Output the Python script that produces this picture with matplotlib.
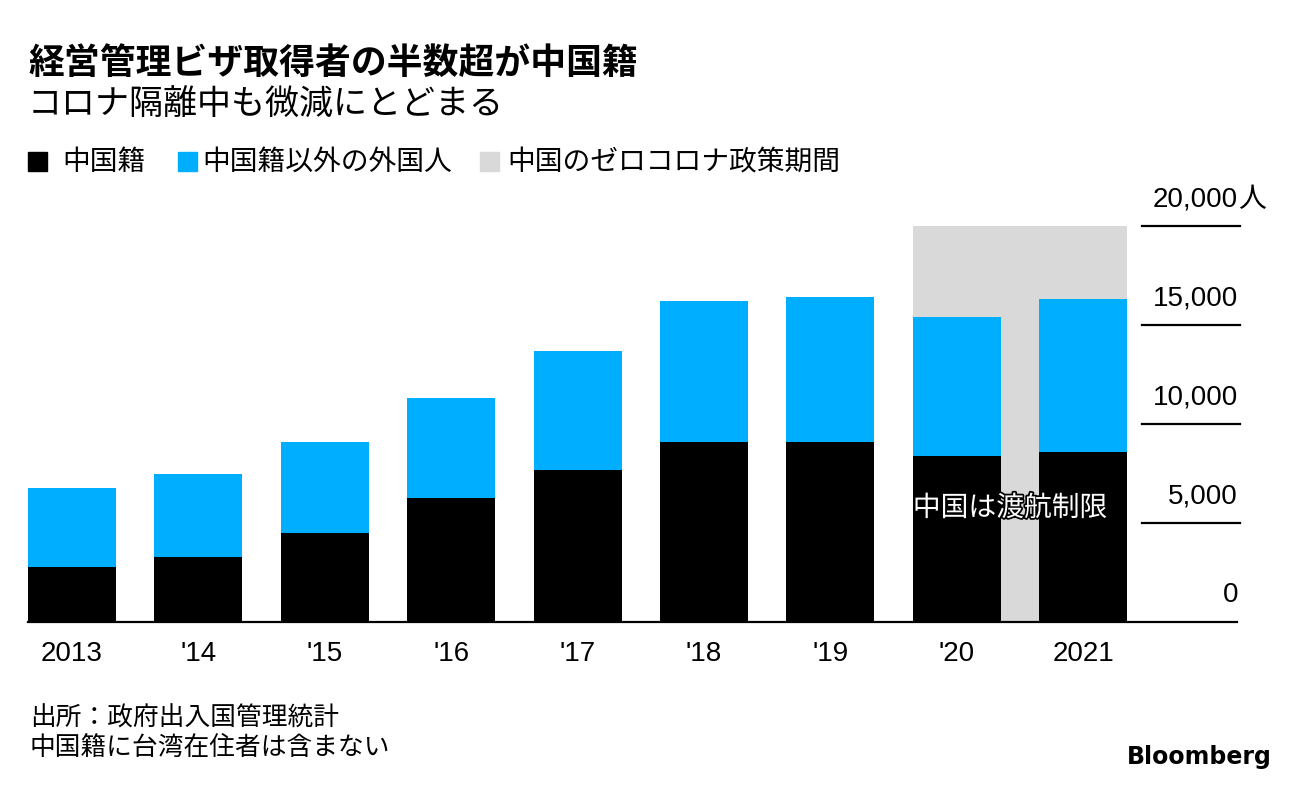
import matplotlib.pyplot as plt
import matplotlib.patheffects as pe
from matplotlib.patches import Rectangle

plt.rcParams["font.family"] = ["Noto Sans CJK JP", "DejaVu Sans"]
NUM_FONT = ["Liberation Sans", "Noto Sans CJK JP"]

years = ["2013", "'14", "'15", "'16", "'17", "'18", "'19", "'20", "2021"]
china = [2780, 3280, 4490, 6260, 7680, 9090, 9090, 8380, 8590]
total = [6770, 7470, 9090, 11310, 13690, 16210, 16410, 15400, 16310]
others = [t - c for t, c in zip(total, china)]
yticks = [0, 5000, 10000, 15000, 20000]
ytick_labels = ["0", "5,000", "10,000", "15,000", "20,000"]

BLACK = "#000000"
BLUE = "#00aeff"
GRAY = "#d9d9d9"

W, H = 1296, 790
fig = plt.figure(figsize=(W / 100, H / 100), dpi=100)
ax = fig.add_axes([28 / W, (H - 622) / H, (1240 - 28) / W, (622 - 226) / H])

bw = 0.696
x = list(range(len(years)))
xmin, xmax = -bw / 2, 9.24
ax.set_xlim(xmin, xmax)
ax.set_ylim(0, 20000)

# zero-covid shading behind the last two bars
ax.add_patch(Rectangle((7 - bw / 2, 0), 1 + bw, 20000, color=GRAY, zorder=0, lw=0))

ax.bar(x, china, width=bw, color=BLACK, zorder=2)
ax.bar(x, others, width=bw, bottom=china, color=BLUE, zorder=2)

# right-side gridlines with labels above them
for yv, lab in zip(yticks, ytick_labels):
    if yv == 0:
        ax.plot([xmin, 9.22], [0, 0], color="black", lw=1.6, zorder=3, clip_on=False)
    else:
        ax.plot([8.465, 9.24], [yv, yv], color="black", lw=1.6, zorder=3, clip_on=False)
    t = ax.text(9.225, yv + 1350, lab, ha="right", va="center", fontsize=20,
                family=NUM_FONT, zorder=3)
    if yv == 20000:
        ax.annotate("人", xy=(1, 0.5), xycoords=t, xytext=(0, 0), textcoords="offset points",
                    ha="left", va="center", fontsize=20)

ax.text(7 - bw / 2, 5760, "中国は渡航制限", color="white", fontsize=20,
        ha="left", va="center", zorder=4,
        path_effects=[pe.withStroke(linewidth=2.5, foreground="black")])

ax.set_xticks(x)
ax.set_xticklabels(years, fontsize=20, family=NUM_FONT)
ax.tick_params(axis="x", length=0, pad=14)
ax.set_yticks([])
for s in ax.spines.values():
    s.set_visible(False)

# titles
fig.text(28 / W, 1 - 63 / H, "経営管理ビザ取得者の半数超が中国籍", fontsize=25.8,
         fontweight="bold", va="center", ha="left")
fig.text(28 / W, 1 - 105 / H, "コロナ隔離中も微減にとどまる", fontsize=24.5,
         va="center", ha="left")

# legend
legend_items = [(28, 62, BLACK, "中国籍"), (178, 202, BLUE, "中国籍以外の外国人"),
                (480, 507, GRAY, "中国のゼロコロナ政策期間")]
for px, tx, col, lab in legend_items:
    fig.patches.append(Rectangle((px / W, 1 - 171 / H), 19 / W, 19 / H, color=col,
                                 transform=fig.transFigure, figure=fig))
    fig.text(tx / W, 1 - 162 / H, lab, fontsize=20, va="center", ha="left")

# footnotes
fig.text(30 / W, 1 - 719 / H, "出所：政府出入国管理統計", fontsize=18.5, va="center", ha="left")
fig.text(30 / W, 1 - 748 / H, "中国籍に台湾在住者は含まない", fontsize=18.5, va="center", ha="left")
fig.text(1272 / W, 1 - 757 / H, "Bloomberg", fontsize=17, fontweight="bold",
         va="center", ha="right", family="DejaVu Sans")

fig.savefig("out.png", dpi=100)
